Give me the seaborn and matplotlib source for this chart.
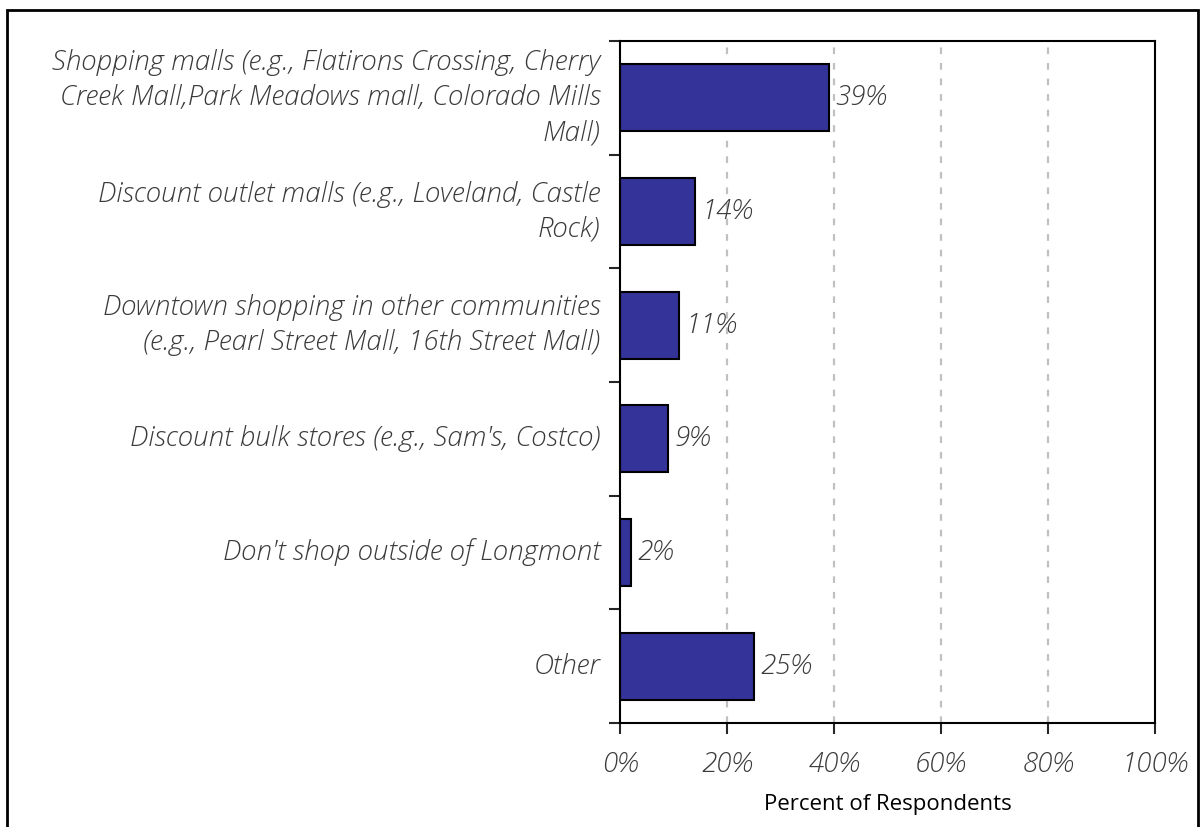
import matplotlib.pyplot as plt
import matplotlib.patches as mpatches
import pandas as pd
import seaborn as sns

categories = [
    'Shopping malls (e.g., Flatirons Crossing, Cherry\nCreek Mall,Park Meadows mall, Colorado Mills\nMall)',
    'Discount outlet malls (e.g., Loveland, Castle\nRock)',
    'Downtown shopping in other communities\n(e.g., Pearl Street Mall, 16th Street Mall)',
    "Discount bulk stores (e.g., Sam's, Costco)",
    "Don't shop outside of Longmont",
    'Other',
]
percentages = [39, 14, 11, 9, 2, 25]
xticks = [0, 20, 40, 60, 80, 100]

df = pd.DataFrame({'Category': categories, 'Percent': percentages})

sns.set_style('white')
plt.rcParams['font.family'] = ['Open Sans', 'DejaVu Sans']

fig = plt.figure(figsize=(12.03, 8.27), dpi=100)
ax = fig.add_axes([0.5154, 0.1258, 0.4447, 0.8246])

sns.barplot(data=df, x='Percent', y='Category', orient='h', color='#333399',
            saturation=1, edgecolor='black', linewidth=1.5, width=0.59, ax=ax)

txt = '#3a3a3a'
lab = dict(fontsize=20, style='italic', fontweight='light', color=txt)
for i, v in enumerate(percentages):
    ax.text(v + 1.2, i, f"{v}%", va='center', ha='left', **lab)

ax.set_xlim(0, 100)
ax.set_ylim(len(categories) - 0.5, -0.5)
ax.set_xticks(xticks)
ax.set_xticklabels([f"{t}%" for t in xticks], **lab)
ax.set_yticks([i - 0.5 for i in range(len(categories) + 1)], minor=False)
ax.set_yticklabels([])
ax.set_yticks(range(len(categories)), minor=True)
ax.set_yticklabels(categories, minor=True, ha='right', va='center', linespacing=1.38, **lab)
ax.tick_params(axis='y', which='minor', length=0, pad=14)
ax.tick_params(axis='y', which='major', length=8, width=1.5, direction='out', left=True)
ax.tick_params(axis='x', length=8, width=1.5, direction='out', bottom=True, pad=12)

for x in xticks[1:-1]:
    ax.axvline(x, color='#c0c0c0', linestyle=(0, (3, 4)), linewidth=1.6, zorder=0)

for s in ax.spines.values():
    s.set_color('black')
    s.set_linewidth(1.5)

ax.set_ylabel('')
ax.set_xlabel('Percent of Respondents', fontsize=16, color='black', labelpad=12)

fig.patches.append(mpatches.Rectangle((7 / 1203, -0.05), 1191 / 1203, 1.05 - 10 / 827,
                                      transform=fig.transFigure, fill=False,
                                      edgecolor='black', linewidth=2))

fig.savefig('out.png', dpi=100)
